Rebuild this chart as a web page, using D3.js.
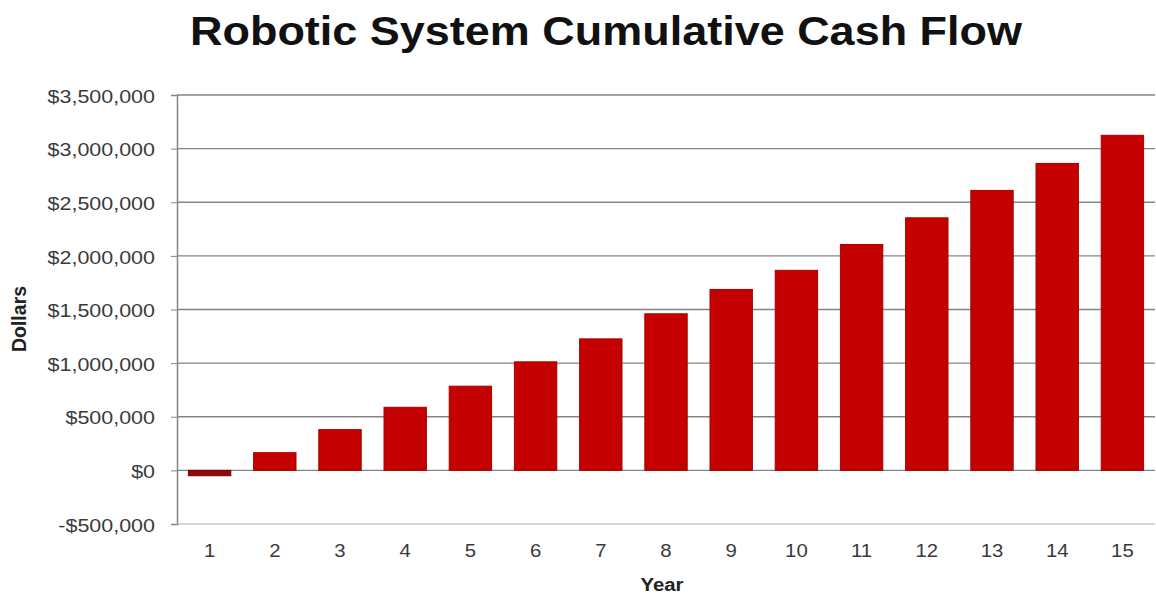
<!DOCTYPE html>
<html><head><meta charset="utf-8">
<script src="https://cdn.jsdelivr.net/npm/d3@7"></script>
<style>body{margin:0;background:#fff;}svg{display:block;}</style>
</head><body>
<svg id="c" width="1156" height="595"></svg>
<script>
const years = ["1","2","3","4","5","6","7","8","9","10","11","12","13","14","15"];
const cashFlow = [-50000,165000,380000,588000,785000,1012000,1226000,1460000,1687000,1865000,2106000,2355000,2610000,2862000,3124000];
const yTicks = [-500000,0,500000,1000000,1500000,2000000,2500000,3000000,3500000];
const titleText = "Robotic System Cumulative Cash Flow";
const xTitle = "Year", yTitle = "Dollars";

const FONT = "Liberation Sans, Arial, sans-serif";
const STRETCH = 1.13;
function stretch(sel, k) {
  sel.each(function() {
    const len = this.getComputedTextLength();
    d3.select(this).attr("textLength", len * k).attr("lengthAdjust", "spacingAndGlyphs");
  });
}

const svg = d3.select("#c");
const mL = 177, mR = 1155, mT = 95, mB = 524;
const x = d3.scaleBand().domain(years).range([mL, mR]).paddingInner(0.35).paddingOuter(0.175);
const y = d3.scaleLinear().domain([-500000, 3500000]).range([mB, mT]);
const fmt = v => (v < 0 ? "-$" : "$") + d3.format(",")(Math.abs(v));

const title = svg.append("text").attr("x", 606).attr("y", 45).attr("text-anchor", "middle")
  .attr("font-family", FONT).attr("font-weight", "bold")
  .attr("font-size", 40).attr("fill", "#111").text(titleText);
title.attr("textLength", 832).attr("lengthAdjust", "spacingAndGlyphs");

svg.append("g").selectAll("line").data(yTicks.filter(d => d !== -500000)).join("line")
  .attr("x1", mL).attr("x2", mR).attr("y1", d => y(d)).attr("y2", d => y(d))
  .attr("stroke", "#858585").attr("stroke-width", 1.3);

svg.append("line").attr("x1", mL).attr("x2", mR).attr("y1", mB).attr("y2", mB)
  .attr("stroke", "#c8c8c8").attr("stroke-width", 1.5);

const ya = svg.append("g").attr("transform", `translate(${mL},0)`)
  .call(d3.axisLeft(y).tickValues(yTicks).tickFormat(fmt).tickSize(6).tickPadding(16));
ya.select(".domain").attr("stroke", "#858585").attr("stroke-width", 1.5);
ya.selectAll(".tick line").attr("stroke", "#858585");
ya.selectAll("text").attr("font-family", FONT).attr("font-size", 19).attr("fill", "#3a3a3a").attr("dy", "0.38em");
stretch(ya.selectAll("text"), STRETCH);

const xa = svg.append("g").attr("transform", `translate(0,${mB})`)
  .call(d3.axisBottom(x).tickSize(0).tickPadding(20));
xa.select(".domain").remove();
xa.selectAll("text").attr("font-family", FONT).attr("font-size", 18).attr("fill", "#3a3a3a");
stretch(xa.selectAll("text"), STRETCH);

svg.append("g").selectAll("rect").data(cashFlow).join("rect")
  .attr("x", (d, i) => x(years[i]))
  .attr("width", x.bandwidth())
  .attr("y", d => y(Math.max(0, d)))
  .attr("height", d => Math.abs(y(d) - y(0)))
  .attr("fill", d => d < 0 ? "#8e0a0a" : "#c40000")
  .attr("stroke", d => d < 0 ? "#7a0000" : "#a80000").attr("stroke-width", 1);

const xt = svg.append("text").attr("x", 662).attr("y", 591).attr("text-anchor", "middle")
  .attr("font-family", FONT).attr("font-weight", "bold")
  .attr("font-size", 18).attr("fill", "#222").text(xTitle);
stretch(xt, STRETCH);

svg.append("text").attr("transform", "translate(26,319) rotate(-90)").attr("text-anchor", "middle")
  .attr("font-family", FONT).attr("font-weight", "bold")
  .attr("font-size", 19.5).attr("fill", "#222").text(yTitle);
</script>
</body></html>
